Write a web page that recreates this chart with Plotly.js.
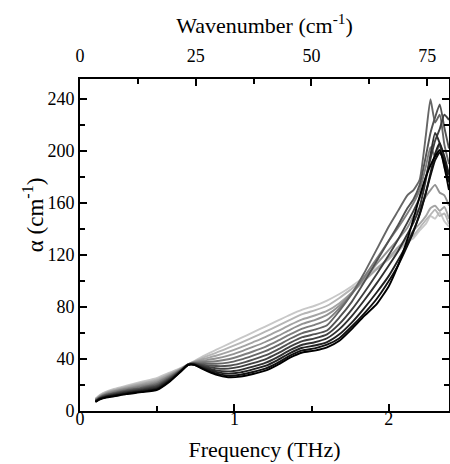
<!DOCTYPE html>
<html>
<head>
<meta charset="utf-8">
<script src="https://cdn.plot.ly/plotly-3.0.1.min.js"></script>
<style>html,body{margin:0;padding:0;background:#fff}#chart{width:450px;height:464px}</style>
</head>
<body>
<div id="chart"></div>
<script>
// Frequency grid (THz)
const freq = [0.10,0.13,0.17,0.22,0.30,0.40,0.50,0.58,0.65,0.70,0.74,0.80,0.88,0.96,1.04,1.12,1.20,1.28,1.36,1.44,1.52,1.60,1.68,1.76,1.84,1.92,2.00,2.06,2.12,2.16,2.20,2.24,2.27,2.30,2.33,2.36,2.39];

// Absorption coefficient alpha (cm^-1), lightest curve first, black last
const curve01 = [9.5,12.5,15,17,19.5,22.5,25.5,29.5,33,36,38.5,42.5,47,51.5,56,60.5,65,69.5,74,78,81,85,90,96,103,110,117,123,130,133,139,144,150,148,153,146,142];
const curve02 = [9.2,12.1,14.5,16.4,18.8,21.6,24.6,28.8,32.6,35.9,38.1,41.3,44.7,48.5,52.5,56.7,61,65.5,70.1,74.5,77.5,81,87,94,101,109,117,124,131,135,141,147,151,155,150,152,144];
const curve03 = [8.9,11.7,14,15.8,18.1,20.7,23.6,28.1,32.3,35.9,37.8,40,42.5,45.5,49,52.9,56.9,61.4,66.2,70.5,73.5,77,83,91,100,109,118,126,133,139,144,150,156,158,154,157,148];
const curve04 = [8.6,11.3,13.5,15.2,17.4,19.8,22.6,27.4,32,35.8,37.5,38.8,40.4,42.6,45.7,49.3,53.1,57.6,62.5,67,70,74,81,91,102,113,124,132,141,150,156,165,170,174,168,166,158];
const curve05 = [8.4,10.9,13,14.6,16.7,18.9,21.6,26.7,31.6,35.8,37.1,37.7,38.3,39.8,42.5,45.8,49.4,53.9,58.9,63.4,66.3,70,79,90,103,117,131,141,152,160,170,188,203,196,205,188,176];
const curve06 = [8.1,10.6,12.5,14,16,18,20.6,25.9,31.3,35.7,36.8,36.6,36.4,37.2,39.5,42.6,46,50.5,55.6,60,62.6,66,77,90,106,124,142,154,166,170,178,212,240,222,228,205,190];
const curve07 = [7.9,10.3,12.1,13.5,15.4,17.3,19.7,25.2,31,35.7,36.5,35.6,34.6,34.8,36.7,39.6,42.8,47.3,52.4,56.8,59.1,62,72,84,99,115,131,143,156,163,174,196,214,226,236,218,202];
const curve08 = [7.6,10,11.7,13,14.8,16.6,18.9,24.6,30.8,35.6,36.3,34.7,32.9,32.6,34.1,36.8,39.8,44.3,49.5,53.8,55.9,59,67,78,91,105,120,132,145,154,164,180,194,208,217,228,224];
const curve09 = [7.4,9.7,11.3,12.5,14.3,16,18.1,24,30.5,35.6,36,33.9,31.3,30.5,31.7,34.1,37,41.5,46.8,51,52.9,56,63,73,85,98,112,123,136,145,157,178,197,214,206,192,182];
const curve10 = [7.3,9.5,11,12.1,13.8,15.4,17.4,23.5,30.3,35.6,35.8,33.1,30.1,28.8,29.7,32,34.7,39.2,44.6,48.7,50.4,53,59,68,79,91,104,116,129,139,151,168,183,198,206,196,182];
const curve11 = [7.1,9.3,10.7,11.7,13.4,14.9,16.8,23,30.1,35.5,35.6,32.5,28.9,27.2,27.9,30,32.6,37.1,42.6,46.6,48.2,51,56,65,75,86,100,112,127,138,152,168,181,193,199,192,176];
const curve12 = [7,9,10.4,11.3,13,14.5,16.3,22.5,30,35.5,35.5,32,28,26,26.5,28.5,31,35.5,41,45,46.5,49,54,63,73,82,96,112,132,148,165,180,189,196,201,188,170];

const curves = [curve01,curve02,curve03,curve04,curve05,curve06,curve07,curve08,curve09,curve10,curve11,curve12];

// Tick labels
const freqTicks = [0, 1, 2];
const freqTickText = ['0', '1', '2'];
const waveTicks = [0, 25, 50, 75];
const waveTickText = ['0', '25', '50', '75'];
const alphaTicks = [0, 40, 80, 120, 160, 200, 240];
const alphaTickText = ['0', '40', '80', '120', '160', '200', '240'];

// Styles
const shades = ['#c8c8c8','#b6b6b6','#a4a4a4','#929292','#7e7e7e','#666666','#525252','#404040','#303030','#202020','#101010','#000000'];

const THZ_TO_CM = 33.356;
const xMax = 2.39;
const font = "'Liberation Serif', 'Times New Roman', serif";

const traces = curves.map((c, i) => ({
  type: 'scatter', mode: 'lines', x: freq, y: c,
  line: {color: shades[i], width: 1.9, shape: 'spline', smoothing: 0.5},
  showlegend: false, hoverinfo: 'skip'
}));
// empty trace so the top (wavenumber) axis gets drawn
traces.push({type: 'scatter', mode: 'lines', x: waveTicks, y: waveTicks.map(() => null),
  xaxis: 'x2', yaxis: 'y', showlegend: false, hoverinfo: 'skip'});

const axisCommon = {
  showline: true, linewidth: 2, linecolor: '#000',
  ticks: 'inside', ticklen: 7, tickwidth: 2, tickcolor: '#000',
  showgrid: false, zeroline: false,
  tickfont: {family: font, size: 18, color: '#000'}
};

const layout = {
  width: 450, height: 464,
  margin: {l: 80, r: 1, t: 79, b: 53},
  paper_bgcolor: '#fff', plot_bgcolor: '#fff',
  font: {family: font, color: '#000'},
  xaxis: Object.assign({}, axisCommon, {
    range: [0, xMax], tickmode: 'array', tickvals: freqTicks, ticktext: freqTickText,
    ticklabelstandoff: -10,
    minor: {dtick: 0.5, ticks: 'inside', ticklen: 5, tickwidth: 2, tickcolor: '#000'},
    title: {text: 'Frequency (THz)', font: {family: font, size: 22, color: '#000'}, standoff: 14}
  }),
  xaxis2: Object.assign({}, axisCommon, {
    overlaying: 'x', side: 'top', anchor: 'y',
    range: [0, xMax * THZ_TO_CM], tickmode: 'array', tickvals: waveTicks, ticktext: waveTickText,
    ticklabelstandoff: 8,
    minor: {dtick: 12.5, ticks: 'inside', ticklen: 5, tickwidth: 2, tickcolor: '#000'},
    title: {text: 'Wavenumber (cm<sup>-1</sup>)', font: {family: font, size: 22, color: '#000'}, standoff: 6}
  }),
  yaxis: Object.assign({}, axisCommon, {
    range: [0, 255.5], tickmode: 'array', tickvals: alphaTicks, ticktext: alphaTickText,
    mirror: 'ticks',
    minor: {dtick: 20, ticks: 'inside', ticklen: 5, tickwidth: 2, tickcolor: '#000'}
  }),
  annotations: [{
    text: 'α (cm<sup>-1</sup>)', xref: 'paper', yref: 'paper',
    x: -0.127, y: 0.59, xanchor: 'center', yanchor: 'middle',
    textangle: -90, showarrow: false,
    font: {family: font, size: 23, color: '#000'}
  }]
};

Plotly.newPlot('chart', traces, layout, {displayModeBar: false, staticPlot: true});
</script>
</body>
</html>
